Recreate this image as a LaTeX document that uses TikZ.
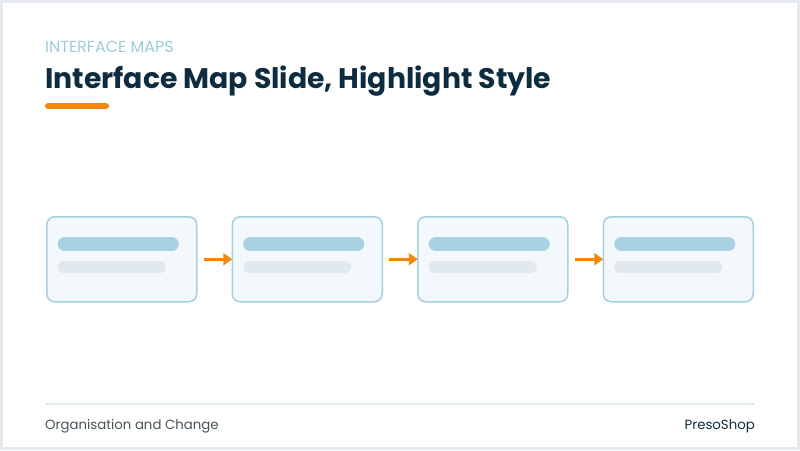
\documentclass[tikz,border=0pt]{standalone}
\usepackage{fontspec}
\setmainfont{Poppins}
\usetikzlibrary{positioning,arrows.meta}
\definecolor{navy}{HTML}{0E2C40}
\definecolor{kicker}{HTML}{9FCBDA}
\definecolor{accent}{HTML}{F5870F}
\definecolor{cardfill}{HTML}{F2F8FB}
\definecolor{cardline}{HTML}{A6D0DE}
\definecolor{barblue}{HTML}{A8D1E2}
\definecolor{bargray}{HTML}{E1E8EE}
\definecolor{rulegray}{HTML}{E4EAEF}
\definecolor{foottext}{HTML}{47525C}
\tikzset{
  card/.style={draw=cardline,fill=cardfill,line width=1.5pt,rounded corners=8pt,
    minimum width=150pt,minimum height=85pt,inner sep=0pt,outer sep=0pt},
  bar/.style={line cap=round},
  flow/.style={draw=accent,line width=3pt,-{Triangle[length=9pt,width=12pt]},shorten <=7pt}
}
\begin{document}
\begin{tikzpicture}[x=1pt,y=-1pt]
\useasboundingbox (0,0) rectangle (800,450);
\fill[white] (0,0) rectangle (800,450);
\draw[rulegray,line width=3pt] (1.5,1.5) rectangle (798.5,448.5);
% heading
\node[anchor=base west,inner sep=0pt,text=kicker,font=\fontsize{16}{19}\selectfont] (kick) at (45,52) {INTERFACE MAPS};
\node[anchor=base west,inner sep=0pt,text=navy,font=\fontsize{28.3}{32}\selectfont\bfseries] (title) at (45,88) {Interface Map Slide, Highlight Style};
\draw[accent,line width=6pt,line cap=round] (48,106) -- (106,106);
% cards
\node[card,anchor=north west] (b1) at (46.75,216.75) {};
\foreach \i in {2,3,4}{
  \pgfmathtruncatemacro\prev{\i-1}
  \node[card,right=35.5pt of b\prev] (b\i) {};
  \draw[flow] (b\prev.east) -- (b\i.west);
}
\foreach \i in {1,...,4}{
  \draw[bar,barblue,line width=14pt] ([xshift=18pt,yshift=15pt]b\i.west) -- ([xshift=-25pt,yshift=15pt]b\i.east);
  \draw[bar,bargray,line width=12pt] ([xshift=17pt,yshift=-8pt]b\i.west) -- ([xshift=-37pt,yshift=-8pt]b\i.east);
}
% footer
\draw[rulegray,line width=2pt] (45,404) -- (755,404);
\node[anchor=base west,inner sep=0pt,text=foottext,font=\fontsize{13.3}{16}\selectfont] (org) at (45,429) {Organisation and Change};
\node[anchor=base east,inner sep=0pt,text=navy,font=\fontsize{13.3}{16}\selectfont] (brand) at (755,429) {PresoShop};
\end{tikzpicture}
\end{document}
